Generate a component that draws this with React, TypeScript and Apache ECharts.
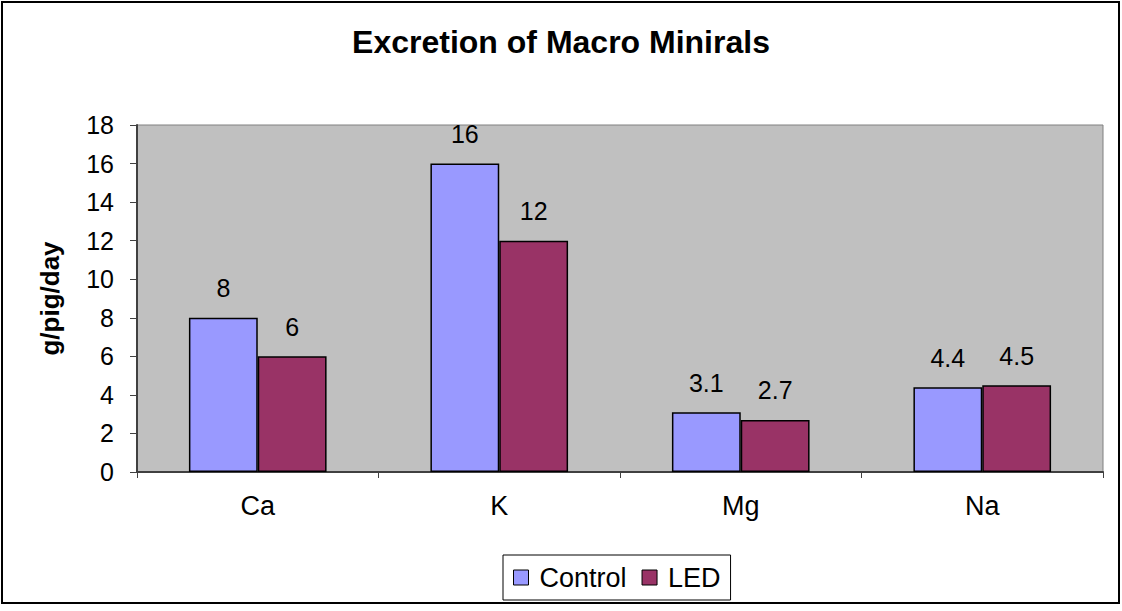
import React, { useEffect, useRef } from "react";
import * as echarts from "echarts";

const categories = ["Ca", "K", "Mg", "Na"];
const controlValues = [8, 16, 3.1, 4.4];
const ledValues = [6, 12, 2.7, 4.5];
const seriesNames = ["Control", "LED"];

export default function App() {
  const ref = useRef<HTMLDivElement>(null);
  useEffect(() => {
    document.body.style.margin = "0";
    const chart = echarts.init(ref.current!, null, { renderer: "svg" });
    const font = "Liberation Sans, Arial, sans-serif";
    const labelStyle = {
      show: true,
      position: "top" as const,
      distance: 17,
      fontSize: 25,
      color: "#000",
      fontFamily: font,
    };
    chart.setOption({
      animation: false,
      backgroundColor: "#fff",
      textStyle: { fontFamily: font },
      title: {
        text: "Excretion of Macro Minirals",
        left: "center",
        top: 21,
        textStyle: { fontSize: 32, fontWeight: "bold", color: "#000", fontFamily: font },
      },
      graphic: [
        {
          type: "rect",
          shape: { x: 2, y: 2, width: 1117, height: 601 },
          style: { fill: "none", stroke: "#000", lineWidth: 2 },
          z: 100,
        },
      ],
      legend: {
        data: seriesNames,
        left: 503,
        top: 555,
        orient: "horizontal",
        icon: "rect",
        itemWidth: 15,
        itemHeight: 15,
        itemGap: 15,
        borderColor: "#000",
        borderWidth: 1,
        padding: [9, 10, 9, 10],
        itemStyle: { borderColor: "#000", borderWidth: 1 },
        textStyle: { fontSize: 27, color: "#000", fontFamily: font, padding: [0, 0, 0, 6] },
      },
      grid: {
        left: 137,
        right: 19,
        top: 125,
        bottom: 139,
        show: true,
        backgroundColor: "#C0C0C0",
        borderColor: "#808080",
        borderWidth: 1,
      },
      xAxis: {
        type: "category",
        data: categories,
        axisLine: { show: true, lineStyle: { color: "#404040", width: 2 } },
        axisTick: { show: true, length: 6, lineStyle: { color: "#404040" } },
        axisLabel: { fontSize: 27, color: "#000", margin: 20, fontFamily: font },
      },
      yAxis: {
        type: "value",
        min: 0,
        max: 18,
        interval: 2,
        name: "g/pig/day",
        nameLocation: "middle",
        nameGap: 74,
        nameRotate: 90,
        nameTextStyle: { fontSize: 26, fontWeight: "bold", color: "#000", fontFamily: font },
        axisLine: { show: true, lineStyle: { color: "#404040", width: 2 } },
        axisTick: { show: true, length: 7, lineStyle: { color: "#404040" } },
        axisLabel: { fontSize: 25, color: "#000", margin: 23, fontFamily: font },
        splitLine: { show: false },
      },
      series: [
        {
          name: seriesNames[0],
          type: "bar",
          data: controlValues,
          barWidth: "28.5%",
          barGap: "0%",
          itemStyle: { color: "#9999FF", borderColor: "#000", borderWidth: 1.5 },
          label: labelStyle,
        },
        {
          name: seriesNames[1],
          type: "bar",
          data: ledValues,
          barWidth: "28.5%",
          barGap: "0%",
          itemStyle: { color: "#993366", borderColor: "#000", borderWidth: 1.5 },
          label: labelStyle,
        },
      ],
    });
    return () => chart.dispose();
  }, []);
  return (
    <div
      ref={ref}
      style={{ position: "absolute", left: 0, top: 0, width: 1122, height: 611 }}
    />
  );
}
